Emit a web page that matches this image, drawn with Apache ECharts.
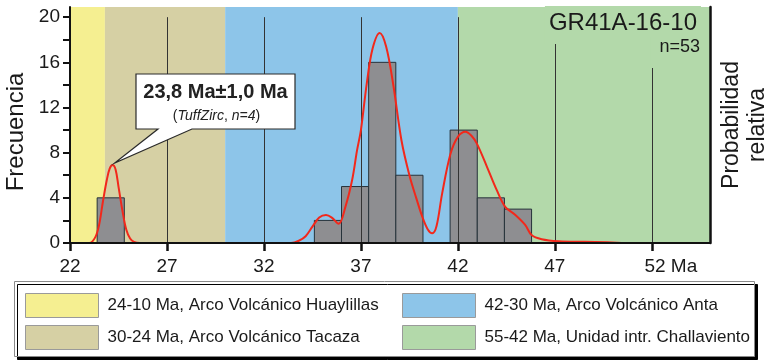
<!DOCTYPE html>
<html>
<head>
<meta charset="utf-8">
<title>GR41A-16-10</title>
<script src="https://cdn.jsdelivr.net/npm/echarts@6/dist/echarts.min.js"></script>
<style>
  html, body { margin: 0; padding: 0; background: #ffffff; }
  #chart { width: 765px; height: 360px; }
</style>
</head>
<body>
<div id="chart"></div>
<script>
// Volcanic arc periods (Ma)
const bandNames = [
  '24-10 Ma, Arco Volcánico Huaylillas',
  '30-24 Ma, Arco Volcánico Tacaza',
  '42-30 Ma, Arco Volcánico Anta',
  '55-42 Ma, Unidad intr. Challaviento'
];
const bandFrom = [22, 23.8, 30, 42];
const bandTo = [23.8, 30, 42, 55];

// Histogram of zircon ages (bin width 1.4 Ma)
const binWidth = 1.4;
const binStart = [23.4, 34.6, 36.0, 37.4, 38.8, 41.6, 43.0, 44.4];
const binCount = [4, 2, 5, 16, 6, 10, 4, 3];

// Relative probability curve
const curveAge = [22.0, 23.0, 23.3, 23.5, 23.7, 23.9, 24.05, 24.2, 24.35, 24.5, 24.7, 24.9, 25.1, 25.3, 25.6,
  33.4, 33.8, 34.15, 34.5, 34.85, 35.2, 35.5, 35.85, 36.2, 36.55, 36.8, 37.0, 37.3, 37.6, 37.97, 38.3, 38.66,
  39.09, 39.5, 39.85, 40.17, 40.45, 40.68, 40.9, 41.19, 41.62, 42.0, 42.39, 42.7, 42.98, 43.5, 44.0, 44.44,
  44.95, 45.47, 45.8, 46.32, 47.2, 48.5, 49.7, 51.0, 55.0];
const curveProb = [0, 0, 0.5, 1.6, 3.7, 5.6, 6.6, 6.9, 6.5, 5.0, 2.9, 1.2, 0.4, 0.1, 0,
  0, 0.2, 0.6, 1.45, 2.25, 2.48, 2.25, 1.7, 3.2, 5.6, 8.2, 10.0, 14.1, 17.2, 18.6, 17.4, 14.1,
  9.1, 6.0, 4.0, 2.3, 1.2, 0.86, 1.5, 4.4, 7.9, 9.4, 9.85, 9.5, 8.8, 6.75, 4.7, 3.2,
  2.5, 1.6, 0.7, 0.33, 0.15, 0.1, 0.06, 0, 0];

// Axis ticks
const xTicks = [22, 27, 32, 37, 42, 47, 52];
const yTicks = [0, 2, 4, 6, 8, 10, 12, 14, 16, 18, 20];
const yLabels = [0, 4, 8, 12, 16, 20];
const gridX = [27, 32, 37, 42, 47, 52];

const FONT = '"Liberation Sans", Arial, Helvetica, sans-serif';
const bandColors = ['#f5ef91', '#d6d0a4', '#8dc5e9', '#b3d9aa'];
const xMin = 22, xMax = 55, yMin = 0, yMax = 20.9;

const chart = echarts.init(document.getElementById('chart'), null, { renderer: 'canvas' });

const bandSeries = bandNames.map((name, i) => ({
  name: name,
  type: 'custom',
  z: 1,
  silent: true,
  itemStyle: { color: bandColors[i] },
  data: [[bandFrom[i], bandTo[i]]],
  renderItem: function (params, api) {
    const x0 = api.coord([api.value(0), 0])[0];
    const x1 = api.coord([api.value(1), 0])[0];
    const cs = params.coordSys;
    return {
      type: 'rect',
      shape: { x: x0, y: cs.y, width: x1 - x0, height: cs.height },
      style: { fill: bandColors[i] }
    };
  }
}));

const histData = binStart.map((s, i) => [s, s + binWidth, binCount[i]]);

const legendCommon = {
  orient: 'vertical', top: 288, padding: 5,
  icon: 'rect', itemWidth: 73, itemHeight: 24, itemGap: 7,
  selectedMode: false,
  itemStyle: { borderColor: '#9a9a9a', borderWidth: 1 },
  textStyle: { fontFamily: FONT, fontSize: 17, color: '#1a1a1a', padding: [0, 0, 0, 4] },
  z: 10
};

const option = {
  animation: false,
  textStyle: { fontFamily: FONT },
  grid: { left: 70, right: 55, top: 7, bottom: 117, containLabel: false, outerBoundsMode: 'none' },
  title: [
    {
      text: 'GR41A-16-10',
      right: 64, top: 6,
      padding: [5, 4, 9, 4],
      backgroundColor: bandColors[3],
      textStyle: { fontFamily: FONT, fontSize: 24, fontWeight: 'normal', color: '#1a1a1a' },
      z: 7
    },
    {
      text: 'n=53',
      right: 64, top: 37,
      padding: [1, 1, 12, 9],
      backgroundColor: bandColors[3],
      textStyle: { fontFamily: FONT, fontSize: 18, fontWeight: 'normal', color: '#1a1a1a' },
      z: 8
    }
  ],
  legend: [
    Object.assign({ data: bandNames.slice(0, 2), left: 20 }, legendCommon),
    Object.assign({ data: bandNames.slice(2, 4), left: 397 }, legendCommon)
  ],
  xAxis: {
    type: 'value', min: xMin, max: xMax, z: 10,
    axisLine: { show: true, onZero: false, lineStyle: { color: '#111', width: 2 } },
    axisTick: { show: true, customValues: xTicks, length: 8, lineStyle: { color: '#111', width: 2.5 } },
    axisLabel: {
      customValues: xTicks, margin: 14,
      fontFamily: FONT, fontSize: 19, color: '#1a1a1a',
      formatter: v => v === xTicks[xTicks.length - 1] ? '{u|' + v + ' Ma}' : String(v),
      rich: { u: { fontFamily: FONT, fontSize: 19, color: '#1a1a1a', padding: [0, 0, 0, 38] } }
    },
    splitLine: { show: false }
  },
  yAxis: [
    {
      type: 'value', min: yMin, max: yMax, z: 10,
      name: 'Frecuencia', nameLocation: 'middle', nameGap: 37, nameRotate: 90,
      nameTextStyle: { fontFamily: FONT, fontSize: 24, color: '#1a1a1a', padding: [0, 14, 0, 0] },
      axisLine: { show: true, lineStyle: { color: '#111', width: 2 } },
      axisTick: { show: true, customValues: yTicks, length: 7, lineStyle: { color: '#111', width: 2 } },
      axisLabel: { customValues: yLabels, margin: 10, fontFamily: FONT, fontSize: 19, color: '#1a1a1a' },
      splitLine: { show: false }
    },
    {
      type: 'value', min: yMin, max: yMax, position: 'right', z: 10,
      name: 'Probabilidad\nrelativa', nameLocation: 'middle', nameGap: 9, nameRotate: 90,
      nameTextStyle: { fontFamily: FONT, fontSize: 23, lineHeight: 26, color: '#1a1a1a', align: 'center', verticalAlign: 'top' },
      axisLine: { show: true, lineStyle: { color: '#111', width: 2.5 } },
      axisTick: { show: false },
      axisLabel: { show: false },
      splitLine: { show: false }
    }
  ],
  series: bandSeries.concat([
    {
      name: 'hist',
      type: 'custom',
      z: 3,
      silent: true,
      data: histData,
      renderItem: function (params, api) {
        const p0 = api.coord([api.value(0), 0]);
        const p1 = api.coord([api.value(1), api.value(2)]);
        return {
          type: 'rect',
          shape: { x: p0[0], y: p1[1], width: p1[0] - p0[0], height: p0[1] - p1[1] },
          style: { fill: '#8e8e91', stroke: '#26323a', lineWidth: 1 }
        };
      }
    },
    {
      name: 'grid lines',
      type: 'line',
      z: 4,
      silent: true,
      data: [],
      markLine: {
        silent: true,
        symbol: ['none', 'none'],
        label: { show: false },
        lineStyle: { color: '#333', width: 1, type: 'solid' },
        data: gridX.map(x => [{ coord: [x, 0] }, { coord: [x, 20] }])
      }
    },
    {
      name: 'prob',
      type: 'line',
      yAxisIndex: 1,
      z: 5,
      silent: true,
      smooth: 0.35,
      showSymbol: false,
      symbol: 'none',
      lineStyle: { color: '#f2281b', width: 2 },
      data: curveAge.map((a, i) => [a, curveProb[i]])
    }
  ])
};

chart.setOption(option);

// Legend frame and the age annotation
let peakIdx = 0;
curveAge.forEach((a, i) => { if (a < 30 && curveProb[i] > curveProb[peakIdx]) peakIdx = i; });
const tip = chart.convertToPixel({ xAxisIndex: 0, yAxisIndex: 0 }, [curveAge[peakIdx], curveProb[peakIdx]]);
const tx = tip[0] + 2, ty = tip[1] - 2;
const bx0 = 136, bx1 = 295, by0 = 74, by1 = 129;

chart.setOption({
  graphic: [
    {
      type: 'rect', z: 1, silent: true,
      shape: { x: 14.5, y: 281.5, width: 740, height: 75 },
      style: { fill: '#ffffff', stroke: '#8a8a8a', lineWidth: 1, shadowColor: '#000', shadowOffsetX: 3, shadowOffsetY: 3, shadowBlur: 0 }
    },
    {
      type: 'polygon', z: 20, silent: true,
      shape: { points: [[bx0, by0], [bx1, by0], [bx1, by1], [192, by1], [tx, ty], [158, by1], [bx0, by1]] },
      style: { fill: '#ffffff', stroke: '#2a2a2a', lineWidth: 1.2 }
    },
    {
      type: 'text', z: 21, silent: true,
      x: (bx0 + bx1) / 2, y: 92,
      style: { text: '23,8 Ma±1,0 Ma', font: 'bold 20px ' + FONT, fill: '#222', align: 'center', verticalAlign: 'middle' }
    },
    {
      type: 'text', z: 21, silent: true,
      x: (bx0 + bx1) / 2 + 1, y: 116,
      style: {
        text: '({i|TuffZirc}, {i|n=4})',
        font: '14px ' + FONT, fill: '#222', align: 'center', verticalAlign: 'middle',
        rich: { i: { fontStyle: 'italic', fontFamily: FONT, fontSize: 14, fill: '#222' } }
      }
    }
  ]
});
</script>
</body>
</html>
